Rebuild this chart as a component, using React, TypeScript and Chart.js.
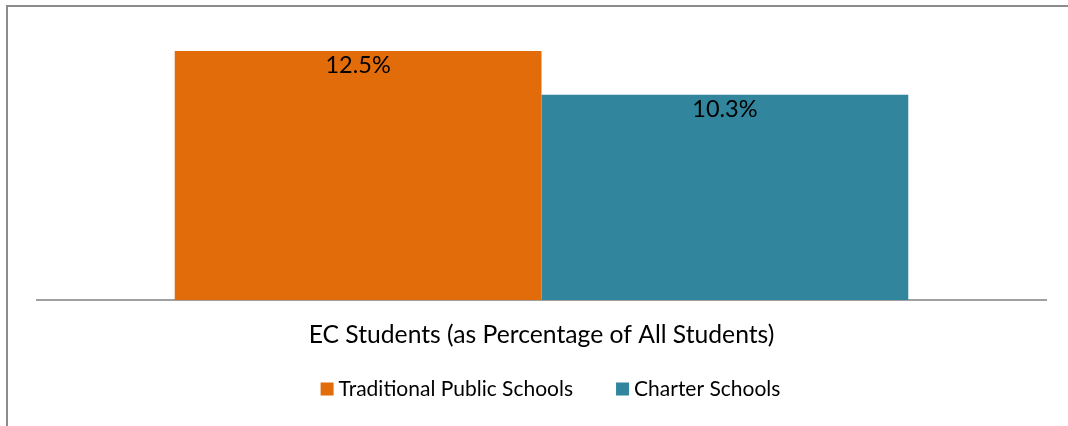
import React, { useEffect, useRef } from "react";
import { Chart, registerables } from "chart.js";

Chart.register(...registerables);

const categories = ["EC Students (as Percentage of All Students)"];
const seriesNames = ["Traditional Public Schools", "Charter Schools"];
const traditionalValues = [12.5];
const charterValues = [10.3];
const seriesColors = ["#E36C0A", "#31859C"];

const FONT = "Lato, 'Open Sans', sans-serif";

const dataLabelPlugin = {
  id: "dataLabels",
  afterDatasetsDraw(chart: any) {
    const ctx = chart.ctx;
    ctx.save();
    ctx.font = `23.5px ${FONT}`;
    ctx.fillStyle = "#000000";
    ctx.textAlign = "center";
    ctx.textBaseline = "middle";
    chart.data.datasets.forEach((ds: any, i: number) => {
      const meta = chart.getDatasetMeta(i);
      meta.data.forEach((bar: any, j: number) => {
        const v = ds.data[j];
        ctx.fillText(`${v.toFixed(1)}%`, bar.x, bar.y + 15);
      });
    });
    ctx.restore();
  },
};

// Legend drawn to match the spreadsheet-style legend (small square, tight gap)
const customLegendPlugin = {
  id: "customLegend",
  afterDraw(chart: any) {
    const ctx = chart.ctx;
    const box = 13;
    const boxGap = 5;
    const itemGap = 43;
    const fontSize = 21;
    ctx.save();
    ctx.font = `${fontSize}px ${FONT}`;
    ctx.textBaseline = "middle";
    ctx.textAlign = "left";
    const items = chart.data.datasets.map((ds: any) => ({
      text: ds.label,
      color: ds.backgroundColor,
      w: box + boxGap + ctx.measureText(ds.label).width,
    }));
    const total = items.reduce((s: number, it: any) => s + it.w, 0) + itemGap * (items.length - 1);
    const area = chart.chartArea;
    let x = (area.left + area.right) / 2 + 9 - total / 2;
    const cy = chart.scales.x.bottom + 39;
    items.forEach((it: any) => {
      ctx.fillStyle = it.color;
      ctx.fillRect(x, cy - box / 2, box, box);
      ctx.fillStyle = "#000000";
      ctx.fillText(it.text, x + box + boxGap, cy);
      x += it.w + itemGap;
    });
    ctx.restore();
  },
};

export default function App() {
  const ref = useRef<HTMLCanvasElement>(null);
  useEffect(() => {
    if (!ref.current) return;
    const chart = new Chart(ref.current, {
      type: "bar",
      data: {
        labels: categories,
        datasets: [
          {
            label: seriesNames[0],
            data: traditionalValues,
            backgroundColor: seriesColors[0],
            categoryPercentage: 0.727,
            barPercentage: 1,
          },
          {
            label: seriesNames[1],
            data: charterValues,
            backgroundColor: seriesColors[1],
            categoryPercentage: 0.727,
            barPercentage: 1,
          },
        ],
      },
      options: {
        animation: false,
        responsive: false,
        maintainAspectRatio: false,
        layout: { padding: { left: 37, right: 22, top: 21, bottom: 76 } },
        scales: {
          y: { display: false, min: 0, max: 14 },
          x: {
            grid: { display: false, drawTicks: false },
            border: { display: true, color: "#A0A0A0", width: 2 },
            ticks: {
              color: "#000000",
              font: { family: FONT, size: 24.7 },
              padding: 20,
            },
            afterFit(scale: any) {
              scale.height = 50;
            },
          },
        },
        plugins: {
          legend: { display: false },
          tooltip: { enabled: false },
        },
      },
      plugins: [dataLabelPlugin, customLegendPlugin],
    });
    return () => chart.destroy();
  }, []);
  return (
    <div style={{ position: "fixed", left: 0, top: 0, width: 1068, height: 426, background: "#fff", overflow: "hidden" }}>
      <canvas ref={ref} width={1068} height={426} style={{ position: "absolute", left: 0, top: 0 }} />
      <div
        style={{
          position: "absolute",
          left: 6,
          top: 5,
          width: 1200,
          height: 600,
          border: "2px solid #8C8C8C",
          boxSizing: "border-box",
          pointerEvents: "none",
        }}
      />
    </div>
  );
}
